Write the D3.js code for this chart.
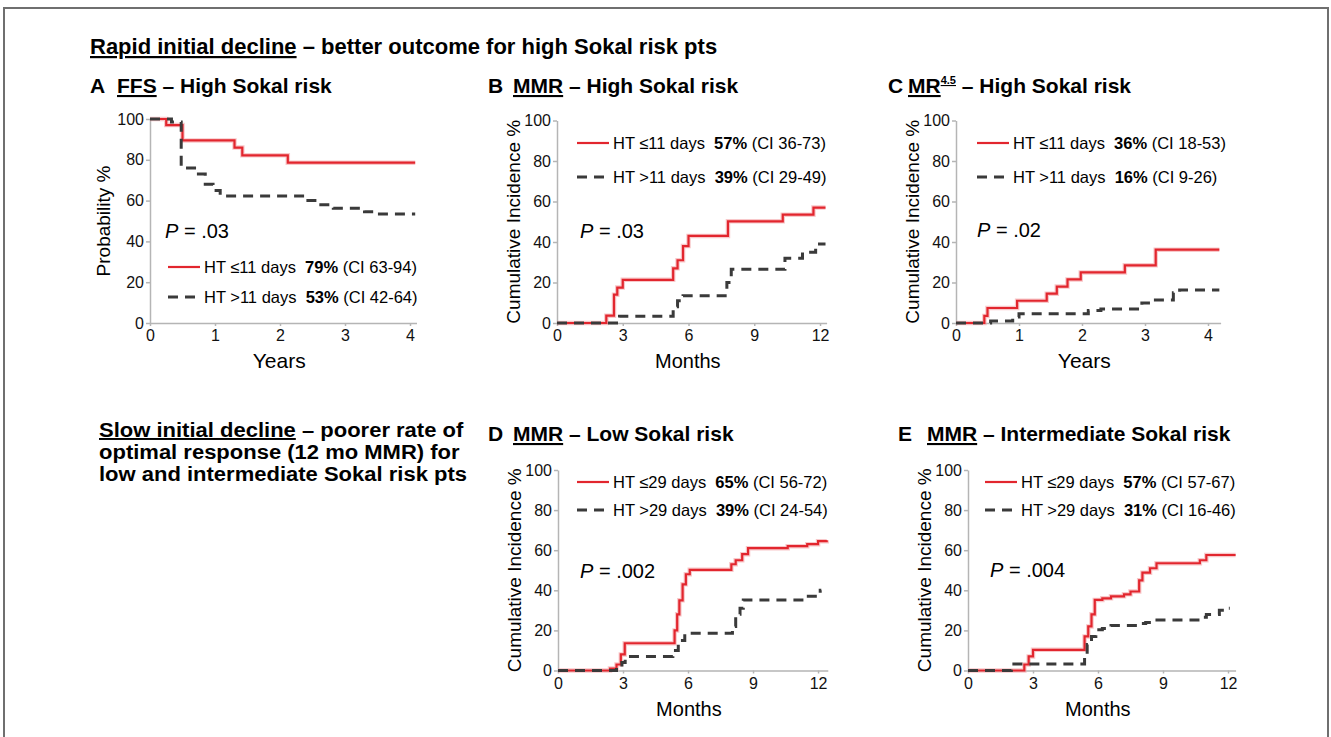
<!DOCTYPE html>
<html>
<head>
<meta charset="utf-8">
<script src="https://cdn.jsdelivr.net/npm/d3@7"></script>
<style>
  body { margin: 0; background: #fff; }
  svg { display: block; font-family: "Liberation Sans", Arial, sans-serif; }
  .tick text { font-size: 16px; fill: #111; }
  .tick line, .domain { stroke: #b5b5b5; stroke-width: 1.5; }
  text { white-space: pre; }
</style>
</head>
<body>
<svg id="chart" width="1331" height="737"></svg>
<script>
// step data: [time, percent]
var aRed = [[0,100],[0.25,97],[0.5,89.5],[1.3,86],[1.42,82.2],[2.12,78.6],[4.08,78.6]];
var aGray = [[0,100],[0.33,98.5],[0.48,76],[0.72,73],[0.85,68],[0.97,65],[1.08,62.3],[2.3,62.3],[2.4,60],[2.6,58],[2.82,56.3],[3.3,54.5],[3.45,53.4],[4.08,53.4]];

var bRed = [[0,0],[2.25,3.6],[2.6,14],[2.75,17.5],[3.0,21.3],[5.3,27],[5.5,31],[5.75,38],[6.0,43],[7.8,50.2],[10.3,53.5],[11.7,57],[12.25,57]];
var bGray = [[0,0],[2.85,3.3],[5.3,8],[5.5,11],[5.75,13.5],[7.75,20],[7.95,26.5],[10.4,32],[11.2,35],[11.8,39],[12.25,39]];

var cRed = [[0,0],[0.45,3.5],[0.5,7.4],[0.97,11],[1.44,14.5],[1.6,18],[1.77,21.5],[1.98,25],[2.68,28.5],[3.17,36.2],[4.18,36.2]];
var cGray = [[0,0],[0.55,1],[0.9,3],[1.0,4.6],[2.1,6.2],[2.3,6.9],[2.95,9.9],[3.1,11.4],[3.45,15],[3.55,16.3],[4.18,16.3]];

var dRed = [[0,0],[2.4,1],[2.7,3],[2.9,8],[3.08,13.6],[5.38,20],[5.5,28],[5.6,35],[5.75,43],[5.9,48],[6.08,50.2],[8.0,53],[8.2,55],[8.5,58],[8.77,61],[10.6,62],[11.5,63],[12.0,64.5],[12.4,65]];
var dGray = [[0,0],[2.7,2],[2.95,4],[3.1,7],[5.3,10],[5.55,15],[5.85,18.6],[8.05,22],[8.2,28],[8.4,31],[8.55,35.2],[11.4,37],[12.1,40],[12.15,40]];

var eRed = [[0,0],[2.6,3],[2.8,7],[3.0,10.3],[5.38,17],[5.55,22],[5.7,28],[5.85,35.2],[6.2,36],[6.6,37],[7.2,38],[7.5,39.4],[7.9,45],[8.05,48.8],[8.4,51],[8.7,53.5],[10.7,55],[11.0,57.6],[12.35,57.6]];
var eGray = [[0,0],[2.0,3.3],[5.38,8],[5.5,13],[5.7,17],[5.9,20.3],[6.2,21],[6.6,22.5],[7.9,23.5],[8.2,24],[8.5,25.2],[10.7,26.5],[11.0,27.9],[11.6,30],[11.9,31],[12.08,31]];

var yearTicks = [0, 1, 2, 3, 4];
var monthTicks = [0, 3, 6, 9, 12];
var pctTicks = [0, 20, 40, 60, 80, 100];

var panels = [
  { letter: "A", key: "FFS", sup: null, rest: " \u2013 High Sokal risk", red: aRed, gray: aGray,
    ticks: yearTicks, xMax: 4.1, xr: [150, 416.5], yr: [323, 119], xLabel: "Years", yLabel: "Probability %",
    legRed: ["HT \u226411 days", "79%", "(CI 63-94)"], legGray: ["HT >11 days", "53%", "(CI 42-64)"],
    p: ".03", titleX: [90, 117], titleY: 93, legX: 168, legY: [267, 297], pX: 165, pY: 238, yLabX: 103 },
  { letter: "B", key: "MMR", sup: null, rest: " \u2013 High Sokal risk", red: bRed, gray: bGray,
    ticks: monthTicks, xMax: 12.3, xr: [557, 826.6], yr: [323, 120.5], xLabel: "Months", yLabel: "Cumulative Incidence %",
    legRed: ["HT \u226411 days", "57%", "(CI 36-73)"], legGray: ["HT >11 days", "39%", "(CI 29-49)"],
    p: ".03", titleX: [488, 513], titleY: 93, legX: 577, legY: [143, 177], pX: 580, pY: 238, yLabX: 513 },
  { letter: "C", key: "MR", sup: "4.5", rest: " \u2013 High Sokal risk", red: cRed, gray: cGray,
    ticks: yearTicks, xMax: 4.2, xr: [956, 1220.6], yr: [323, 120.5], xLabel: "Years", yLabel: "Cumulative Incidence %",
    legRed: ["HT \u226411 days", "36%", "(CI 18-53)"], legGray: ["HT >11 days", "16%", "(CI 9-26)"],
    p: ".02", titleX: [888, 908], titleY: 93, legX: 977, legY: [143, 177], pX: 977, pY: 237, yLabX: 912 },
  { letter: "D", key: "MMR", sup: null, rest: " \u2013 Low Sokal risk", red: dRed, gray: dGray,
    ticks: monthTicks, xMax: 12.45, xr: [558, 827.8], yr: [670.5, 470], xLabel: "Months", yLabel: "Cumulative Incidence %",
    legRed: ["HT \u226429 days", "65%", "(CI 56-72)"], legGray: ["HT >29 days", "39%", "(CI 24-54)"],
    p: ".002", titleX: [488, 513], titleY: 441, legX: 577, legY: [482, 510], pX: 580, pY: 578, yLabX: 514 },
  { letter: "E", key: "MMR", sup: null, rest: " \u2013 Intermediate Sokal risk", red: eRed, gray: eGray,
    ticks: monthTicks, xMax: 12.35, xr: [968, 1235.6], yr: [670.5, 470], xLabel: "Months", yLabel: "Cumulative Incidence %",
    legRed: ["HT \u226429 days", "57%", "(CI 57-67)"], legGray: ["HT >29 days", "31%", "(CI 16-46)"],
    p: ".004", titleX: [898, 927], titleY: 441, legX: 985, legY: [482, 510], pX: 990, pY: 577, yLabX: 924 }
];

var svg = d3.select("#chart");

svg.append("rect").attr("width", 1331).attr("height", 737).attr("fill", "#fff");
// frame round the figure (bottom edge is cut off)
svg.append("path")
  .attr("d", "M4,740 V8 H1328 V740")
  .attr("fill", "none").attr("stroke", "#6f6f6f").attr("stroke-width", 2);

// section headings
var head1 = svg.append("text").attr("x", 90).attr("y", 54)
  .style("font-size", "22px").style("font-weight", "bold");
head1.append("tspan").text("Rapid initial decline").style("text-decoration", "underline");
head1.append("tspan").text(" \u2013 better outcome for high Sokal risk pts");

// the heading glyphs in the picture are wide and short: smaller font, stretched to the width
var slowLines = [["Slow initial decline", " \u2013 poorer rate of"], [null, "optimal response (12 mo MMR) for"], [null, "low and intermediate Sokal risk pts"]];
slowLines.forEach(function(l, i) {
  var t = svg.append("text").attr("x", 99).attr("y", 437 + i * 22)
    .style("font-size", "22px").style("font-weight", "bold");
  if (l[0]) t.append("tspan").text(l[0]).style("text-decoration", "underline");
  t.append("tspan").text(l[1]);
  var w = t.node().getComputedTextLength();
  t.style("font-size", "19.5px").attr("textLength", w).attr("lengthAdjust", "spacingAndGlyphs");
});

var redLine = "#e2262e";
var grayLine = "#3a3a3a";

panels.forEach(function(p) {
  var x = d3.scaleLinear().domain([0, p.xMax]).range(p.xr);
  var y = d3.scaleLinear().domain([0, 100]).range(p.yr);
  var g = svg.append("g");

  // panel title
  g.append("text").attr("x", p.titleX[0]).attr("y", p.titleY)
    .style("font-size", "21px").style("font-weight", "bold").text(p.letter);
  var tt = g.append("text").attr("x", p.titleX[1]).attr("y", p.titleY)
    .style("font-size", "21px").style("font-weight", "bold");
  var k = tt.append("tspan").style("text-decoration", "underline");
  k.append("tspan").text(p.key);
  if (p.sup) {
    k.append("tspan").attr("dy", -9).style("font-size", "11px").text(p.sup);
    tt.append("tspan").attr("dy", 9).text(p.rest);
  } else {
    tt.append("tspan").text(p.rest);
  }

  // axes
  g.append("g").attr("transform", "translate(0," + p.yr[0] + ")")
    .call(d3.axisBottom(x).tickValues(p.ticks).tickFormat(d3.format("d"))
      .tickSize(3).tickSizeOuter(0).tickPadding(4));
  g.append("g").attr("transform", "translate(" + p.xr[0] + ",0)")
    .call(d3.axisLeft(y).tickValues(pctTicks).tickSize(4).tickSizeOuter(0).tickPadding(2));

  g.append("text").attr("x", (x(0) + x(p.xMax)) / 2 - 4).attr("y", p.yr[0] + 45)
    .attr("text-anchor", "middle").style("font-size", p.xLabel === "Years" ? "21px" : "20px").text(p.xLabel);
  g.append("text")
    .attr("transform", "translate(" + p.yLabX + "," + ((p.yr[0] + p.yr[1]) / 2) + ") rotate(-90)")
    .attr("text-anchor", "middle").attr("dy", "0.35em").style("font-size", "19px").text(p.yLabel);

  // curves
  var line = d3.line().x(function(d) { return x(d[0]); }).y(function(d) { return y(d[1]); })
    .curve(d3.curveStepAfter);
  g.append("path").datum(p.red).attr("d", line).attr("fill", "none")
    .attr("stroke", "#f3a3a6").attr("stroke-width", 4.5).attr("stroke-opacity", 0.6);
  g.append("path").datum(p.red).attr("d", line).attr("fill", "none")
    .attr("stroke", redLine).attr("stroke-width", 2.2);
  g.append("path").datum(p.gray).attr("d", line).attr("fill", "none")
    .attr("stroke", grayLine).attr("stroke-width", 3).attr("stroke-dasharray", "10,7");

  // legend
  [[p.legRed, redLine, null], [p.legGray, grayLine, "10,7"]].forEach(function(e, i) {
    var ly = p.legY[i];
    g.append("line").attr("x1", p.legX).attr("x2", p.legX + 32).attr("y1", ly).attr("y2", ly)
      .attr("stroke", e[1]).attr("stroke-width", e[2] ? 3 : 2.2).attr("stroke-dasharray", e[2]);
    var t = g.append("text").attr("x", p.legX + 36).attr("y", ly + 6).style("font-size", "16.5px");
    t.append("tspan").text(e[0][0] + "  ");
    t.append("tspan").style("font-weight", "bold").text(e[0][1]);
    t.append("tspan").text(" " + e[0][2]);
  });

  var pt = g.append("text").attr("x", p.pX).attr("y", p.pY).style("font-size", "20px");
  pt.append("tspan").style("font-style", "italic").text("P");
  pt.append("tspan").text(" = " + p.p);
});
</script>
</body>
</html>
